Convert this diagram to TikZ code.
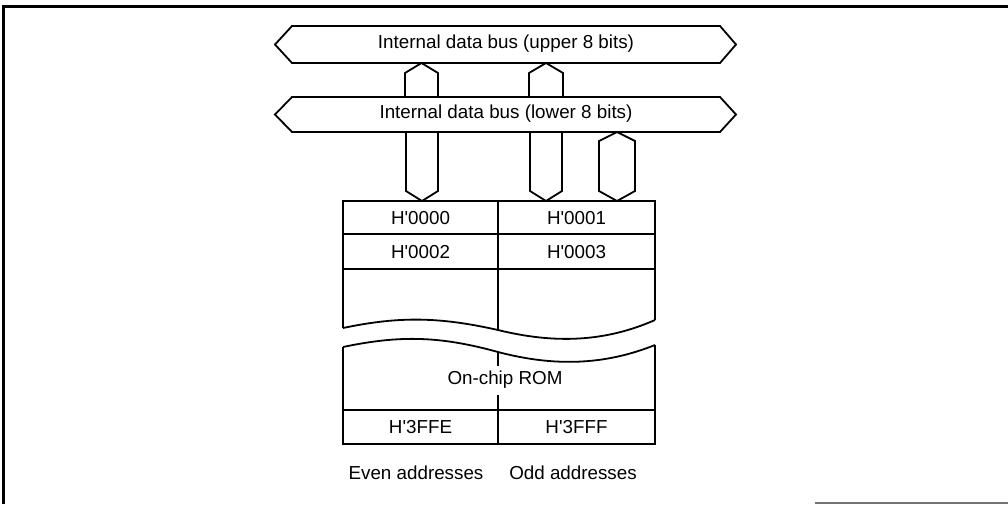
\documentclass[tikz,border=0pt]{standalone}
\usepackage{fontspec}
\setmainfont{Liberation Sans}
\newfontfamily\lsans{Liberation Sans}
\begin{document}
\begin{tikzpicture}[x=1pt,y=-1pt,
  ln/.style={line width=1.8pt, line join=miter},
  lbl/.style={font=\lsans\fontsize{18.8}{21}\selectfont, inner sep=0pt, anchor=center}]
\useasboundingbox (0,0) rectangle (1008,504);
% frame
\draw[line width=3pt] (3.5,504) -- (3.5,6.5) -- (1008,6.5);
\draw[line width=2pt, black!55] (815,503) -- (1008,503);
% buses
\draw[ln] (292,26) -- (720,26) -- (736,44.5) -- (720,63) -- (292,63) -- (275,44.5) -- cycle;
\node[lbl] (ub) at (506,44) {Internal data bus (upper 8 bits)};
\draw[ln] (292,97) -- (720,97) -- (736,114.5) -- (720,132) -- (292,132) -- (275,114.5) -- cycle;
\node[lbl] (lb) at (506,114) {Internal data bus (lower 8 bits)};
% connectors between buses
\draw[ln] (405,97) -- (405,73) -- (421.5,63) -- (438,73) -- (438,97);
\draw[ln] (529,97) -- (529,73) -- (546,63) -- (563,73) -- (563,97);
% connectors from lower bus to ROM
\draw[ln] (406,132) -- (406,191) -- (422,201) -- (438,191) -- (438,132);
\draw[ln] (530,132) -- (530,191) -- (546,201) -- (562,191) -- (562,132);
\draw[ln] (617,132) -- (635,141) -- (635,191) -- (617,201) -- (599,191) -- (599,141) -- cycle;
% ROM upper piece
\draw[ln] (343,328) -- (343,201) -- (655,201) -- (655,320);
\draw[ln] (343,234) -- (655,234);
\draw[ln] (343,269) -- (655,269);
\draw[ln] (498,201) -- (498,330);
\draw[ln] (343,328) .. controls (400,316) and (440,317) .. (498,330)
  .. controls (555,344) and (605,342) .. (655,320);
% ROM lower piece
\draw[ln] (343,347) .. controls (400,335) and (440,336) .. (498,352)
  .. controls (555,367) and (605,365) .. (655,345);
\draw[ln] (343,347) -- (343,444) -- (655,444) -- (655,345);
\draw[ln] (343,410) -- (655,410);
\draw[ln] (498,352) -- (498,366);
\draw[ln] (498,395) -- (498,444);
% texts
\node[lbl] (a0) at (420.5,218) {H'0000};
\node[lbl] (a1) at (576.5,218) {H'0001};
\node[lbl] (a2) at (420.5,252) {H'0002};
\node[lbl] (a3) at (576.5,252) {H'0003};
\node[lbl] (rom) at (505,380) {On-chip ROM};
\node[lbl] (ae) at (420.5,427) {H'3FFE};
\node[lbl] (ao) at (576.5,427) {H'3FFF};
\node[lbl] (ev) at (416,473) {Even addresses};
\node[lbl] (od) at (573,473) {Odd addresses};
\end{tikzpicture}
\end{document}
